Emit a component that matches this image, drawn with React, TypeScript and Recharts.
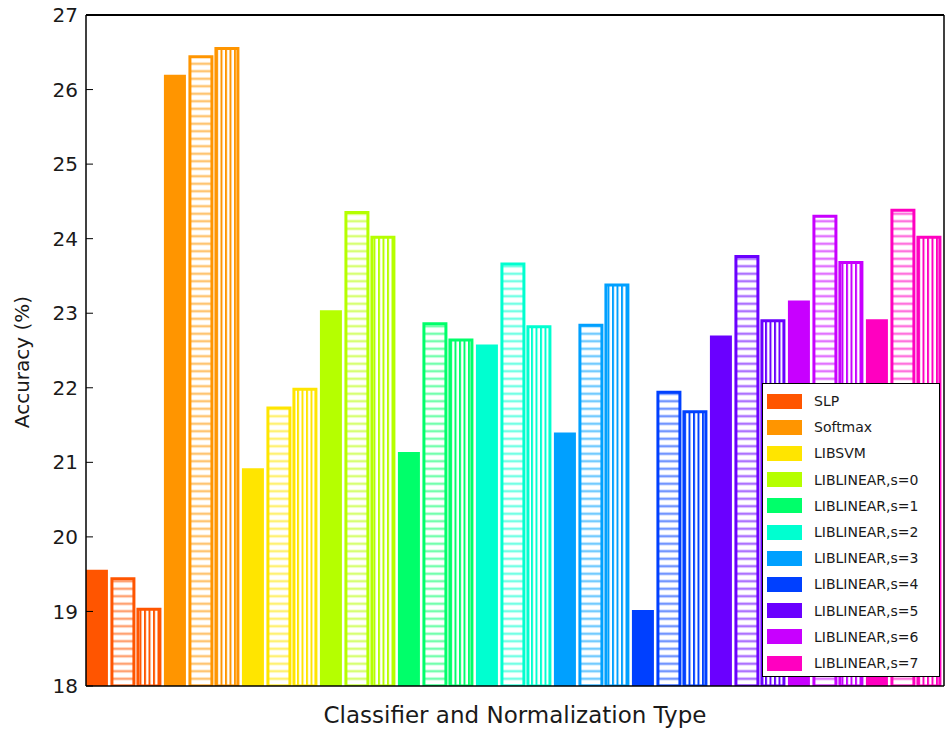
import React from 'react';
import { BarChart, Bar, XAxis, YAxis, Cell, Legend, Label } from 'recharts';

const categories = [
  'SLP',
  'Softmax',
  'LIBSVM',
  'LIBLINEAR,s=0',
  'LIBLINEAR,s=1',
  'LIBLINEAR,s=2',
  'LIBLINEAR,s=3',
  'LIBLINEAR,s=4',
  'LIBLINEAR,s=5',
  'LIBLINEAR,s=6',
  'LIBLINEAR,s=7',
];
// solid bars (first of each group)
const solidValues = [19.56, 26.2, 20.92, 23.04, 21.14, 22.58, 21.4, 19.02, 22.7, 23.17, 22.92];
// horizontally hatched bars (second of each group)
const horizontalValues = [19.44, 26.44, 21.73, 24.35, 22.86, 23.66, 22.84, 21.94, 23.76, 24.3, 24.38];
// vertically hatched bars (third of each group)
const verticalValues = [19.03, 26.55, 21.98, 24.02, 22.64, 22.82, 23.38, 21.68, 22.9, 23.68, 24.02];

const yTicks = [18, 19, 20, 21, 22, 23, 24, 25, 26, 27];
const colors = [
  '#ff5500',
  '#ff9500',
  '#ffe500',
  '#b5ff00',
  '#00ff6a',
  '#00ffd0',
  '#00a0ff',
  '#0040ff',
  '#6a00ff',
  '#c800ff',
  '#ff00c0',
];

const kinds = ['solid', 'h', 'v'];
const seriesByKind = [solidValues, horizontalValues, verticalValues];

const data = categories.flatMap((c, i) =>
  kinds.map((k, j) => ({
    x: i * 3 + j + 0.42,
    value: seriesByKind[j][i],
    cat: i,
    kind: k,
    name: c,
  }))
);
const slotCount = categories.length * 3;
const xTicks = Array.from({ length: slotCount + 1 }, (_, i) => i);

const FONT = 'DejaVu Sans, sans-serif';

const LegendBox = () => (
  <div
    style={{
      position: 'relative',
      width: 178,
      height: 294,
      border: '1.5px solid #000',
      background: '#fff',
      boxSizing: 'border-box',
      fontFamily: FONT,
    }}
  >
    {categories.map((c, i) => (
      <div
        key={c}
        style={{
          position: 'absolute',
          left: 4,
          top: 17 + i * 26.2 - 13,
          height: 26,
          display: 'flex',
          alignItems: 'center',
        }}
      >
        <div style={{ width: 35, height: 15, background: colors[i] }} />
        <span style={{ marginLeft: 12, fontSize: 14, color: '#1a1a1a', whiteSpace: 'nowrap' }}>{c}</span>
      </div>
    ))}
  </div>
);

export default function App() {
  return (
    <div style={{ position: 'absolute', left: 0, top: 0, width: 945, height: 729, background: '#fff' }}>
      <BarChart
        width={945}
        height={729}
        data={data}
        margin={{ top: 14, right: 0, bottom: 0, left: 0 }}
        barGap={0}
      >
        <defs>
          {colors.map((c, i) => (
            <pattern key={`h${i}`} id={`hatchH${i}`} patternUnits="userSpaceOnUse" width={8} height={7.5}>
              <rect width={8} height={7.5} fill="#fff" />
              <rect y={2.5} width={8} height={2.5} fill={c} fillOpacity={0.55} />
            </pattern>
          ))}
          {colors.map((c, i) => (
            <pattern key={`v${i}`} id={`hatchV${i}`} patternUnits="userSpaceOnUse" width={4.5} height={8}>
              <rect width={4.5} height={8} fill="#fff" />
              <rect x={0} width={2} height={8} fill={c} />
            </pattern>
          ))}
        </defs>
        <XAxis
          xAxisId="bottom"
          dataKey="x"
          type="number"
          domain={[0, slotCount]}
          allowDataOverflow
          ticks={xTicks}
          orientation="bottom"
          height={43}
          tick={false}
          tickSize={-7}
          tickLine={{ stroke: '#000', strokeWidth: 1 }}
          axisLine={{ stroke: '#000', strokeWidth: 1.5 }}
        >
          <Label
            value="Classifier and Normalization Type"
            position="insideBottom"
            offset={6}
            style={{ fontSize: 23, fontFamily: FONT, fill: '#1a1a1a' }}
          />
        </XAxis>
        <XAxis
          xAxisId="top"
          dataKey="x"
          type="number"
          domain={[0, slotCount]}
          allowDataOverflow
          ticks={xTicks}
          orientation="top"
          height={1}
          tick={false}
          tickSize={-7}
          tickLine={{ stroke: '#000', strokeWidth: 1 }}
          axisLine={{ stroke: '#000', strokeWidth: 2 }}
        />
        <YAxis
          yAxisId="left"
          type="number"
          domain={[18, 27]}
          allowDataOverflow
          ticks={yTicks}
          orientation="left"
          width={86}
          tickSize={-7}
          tickMargin={15}
          tick={{ fill: '#1a1a1a', fontSize: 20, fontFamily: FONT }}
          tickLine={{ stroke: '#000', strokeWidth: 1 }}
          axisLine={{ stroke: '#000', strokeWidth: 1.5 }}
        >
          <Label
            content={() => (
              <text
                x={29}
                y={362}
                transform="rotate(-90 29 362)"
                textAnchor="middle"
                style={{ fontSize: 20, fontFamily: FONT, fill: '#1a1a1a' }}
              >
                Accuracy (%)
              </text>
            )}
          />
        </YAxis>
        <YAxis
          yAxisId="right"
          type="number"
          domain={[18, 27]}
          allowDataOverflow
          ticks={yTicks}
          orientation="right"
          width={1}
          tick={false}
          tickSize={-7}
          tickLine={{ stroke: '#000', strokeWidth: 1 }}
          axisLine={{ stroke: '#000', strokeWidth: 1.5 }}
        />
        <Bar dataKey="value" xAxisId="bottom" yAxisId="left" barSize={22} isAnimationActive={false}>
          {data.map((d, idx) => {
            const c = colors[d.cat];
            if (d.kind === 'solid') {
              return <Cell key={idx} fill={c} stroke="none" />;
            }
            const pid = d.kind === 'h' ? `hatchH${d.cat}` : `hatchV${d.cat}`;
            return <Cell key={idx} fill={`url(#${pid})`} stroke={c} strokeWidth={3} />;
          })}
        </Bar>
        <Legend
          layout="vertical"
          align="center"
          verticalAlign="middle"
          wrapperStyle={{ position: 'absolute', left: 762, top: 383, width: 178, height: 294 }}
          content={() => <LegendBox />}
        />
      </BarChart>
    </div>
  );
}
